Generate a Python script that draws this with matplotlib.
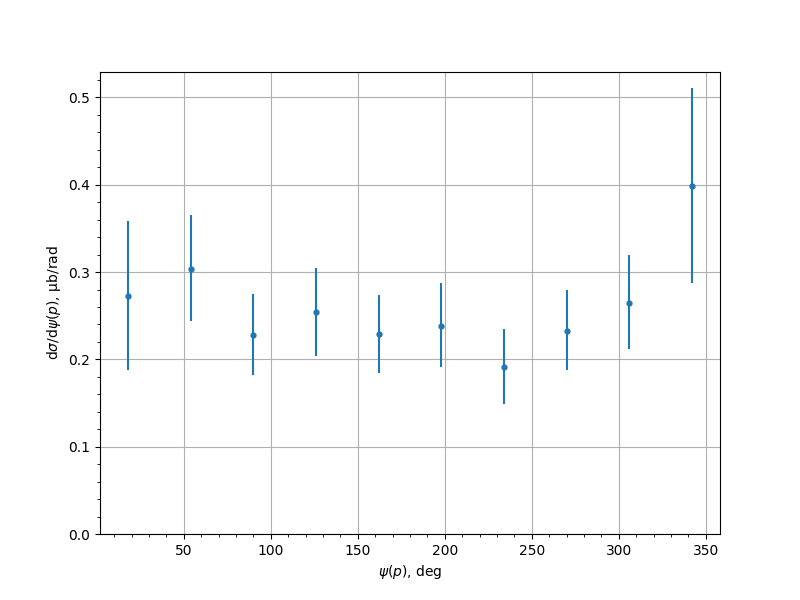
import matplotlib
matplotlib.use('Agg')
import matplotlib.pyplot as plt

psi = [18, 54, 90, 126, 162, 198, 234, 270, 306, 342]
xsec = [0.272, 0.304, 0.228, 0.254, 0.229, 0.238, 0.191, 0.233, 0.265, 0.398]
err_lo = [0.084, 0.060, 0.046, 0.050, 0.045, 0.047, 0.042, 0.045, 0.053, 0.110]
err_hi = [0.087, 0.061, 0.047, 0.051, 0.045, 0.050, 0.044, 0.047, 0.054, 0.113]

fig = plt.figure(figsize=(8, 6), dpi=100)
ax = fig.add_subplot(1, 1, 1)
ax.errorbar(psi, xsec, yerr=[err_lo, err_hi], fmt='o', ms=3.5, color='#1f77b4')
ax.set_ylim(bottom=0)
ax.grid(True)
ax.minorticks_on()
ax.grid(False, which='minor')
ax.set_xlabel(r'$\psi(p)$, deg')
ax.set_ylabel(r'd$\sigma$/d$\psi(p)$, μb/rad')

fig.savefig('out.png')
